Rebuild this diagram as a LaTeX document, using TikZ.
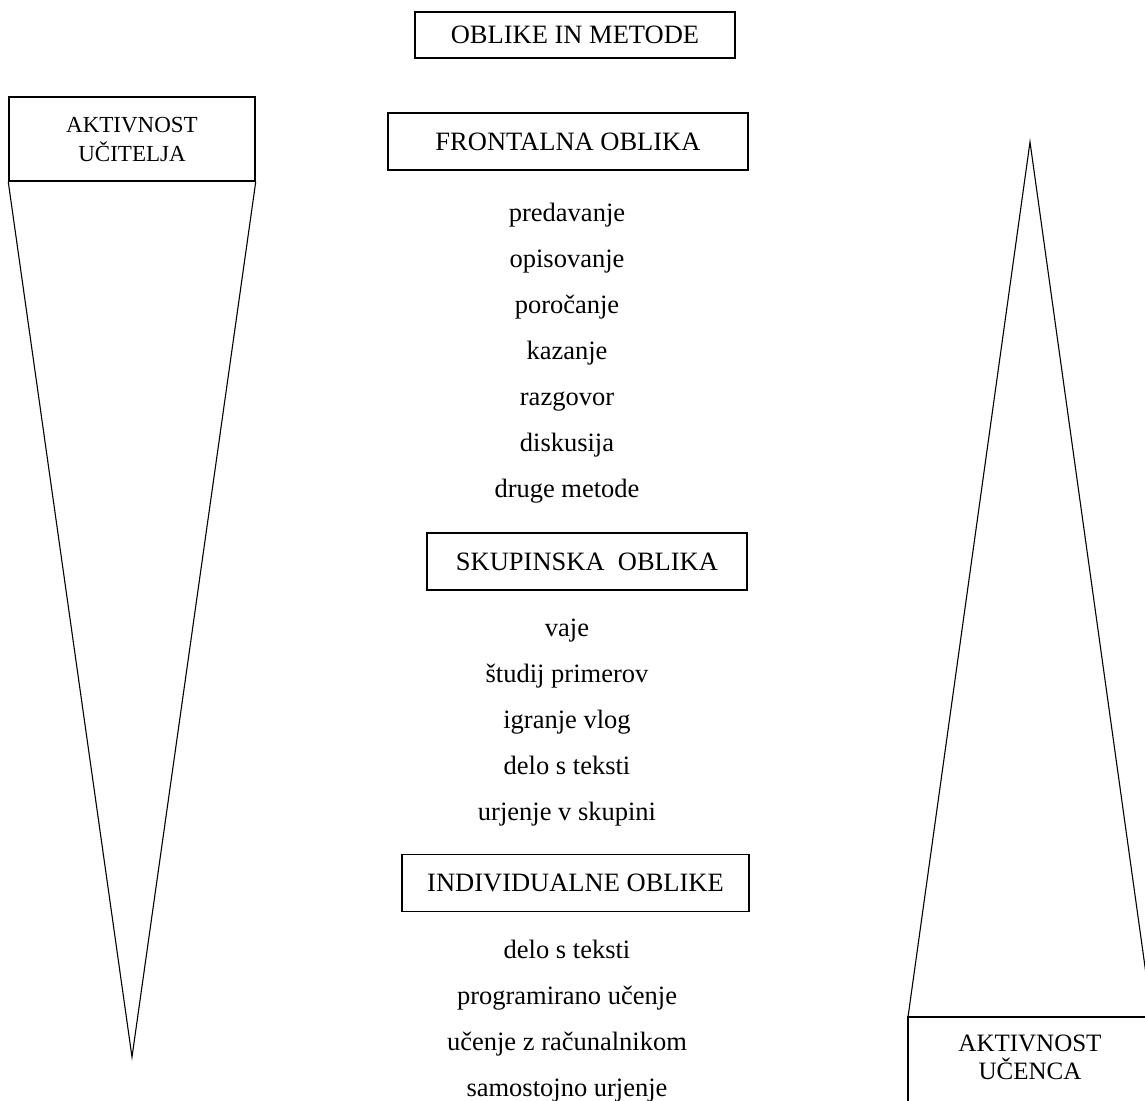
\documentclass[tikz,border=0pt]{standalone}
\usepackage{fontspec}
\setmainfont{Liberation Serif}
\begin{document}
\begin{tikzpicture}[x=1pt,y=-1pt,
  box/.style={draw, line width=1.5pt, inner sep=0pt, minimum height=57pt,
    font=\fontsize{26.5}{32}\selectfont},
  item/.style={inner sep=0pt, anchor=mid, font=\fontsize{26.5}{32}\selectfont},
  side/.style={draw, line width=1.5pt, inner sep=0pt, minimum width=246pt,
    minimum height=84pt, align=center},
  tri/.style={line width=1.1pt, line join=miter}]
\useasboundingbox (0,0) rectangle (1145,1100);
\clip (0,0) rectangle (1145,1100);
\node[box, minimum width=320pt, minimum height=46pt] (title) at (575,35) {OBLIKE IN METODE};
\node[box, minimum width=360pt] (front) at (568,141.5) {FRONTALNA OBLIKA};
\node[box, minimum width=320pt] (group) at (587,561.5) {SKUPINSKA\ \ OBLIKA};
\node[box, minimum width=347pt] (indiv) at (575.5,883) {INDIVIDUALNE OBLIKE};
% frontal items
\node[item] (f1) at (567,219) {predavanje};
\node[item] (f2) at (567,265) {opisovanje};
\node[item] (f3) at (567,311) {poročanje};
\node[item] (f4) at (567,357) {kazanje};
\node[item] (f5) at (567,403) {razgovor};
\node[item] (f6) at (567,449) {diskusija};
\node[item] (f7) at (567,495) {druge metode};
% group items
\node[item] (g1) at (567,634) {vaje};
\node[item] (g2) at (567,680) {študij primerov};
\node[item] (g3) at (567,726) {igranje vlog};
\node[item] (g4) at (567,772) {delo s teksti};
\node[item] (g5) at (567,818) {urjenje v skupini};
% individual items
\node[item] (i1) at (567,956) {delo s teksti};
\node[item] (i2) at (567,1002) {programirano učenje};
\node[item] (i3) at (567,1048) {učenje z računalnikom};
\node[item] (i4) at (567,1094) {samostojno urjenje};
% side boxes
\node[side, font=\fontsize{23}{29}\selectfont] (teach) at (132,139) {AKTIVNOST\\UČITELJA};
\coordinate (apexL) at (132,1057);
\draw[tri] (teach.south west) -- (apexL) -- (teach.south east);
% bottom right box (cut by the page edge)
\coordinate (studNW) at (908,1017);
\coordinate (studSE) at (1152,1112);
\draw[line width=1.5pt] (studNW) rectangle (studSE);
\node[inner sep=0pt, align=center, font=\fontsize{25}{28}\selectfont] (stud) at (1030,1057) {AKTIVNOST\\UČENCA};
\coordinate (studNE) at (1152,1017);
\coordinate (apexR) at (1030,142);
\draw[tri] (studNW) -- (apexR) -- (studNE);
\end{tikzpicture}
\end{document}
